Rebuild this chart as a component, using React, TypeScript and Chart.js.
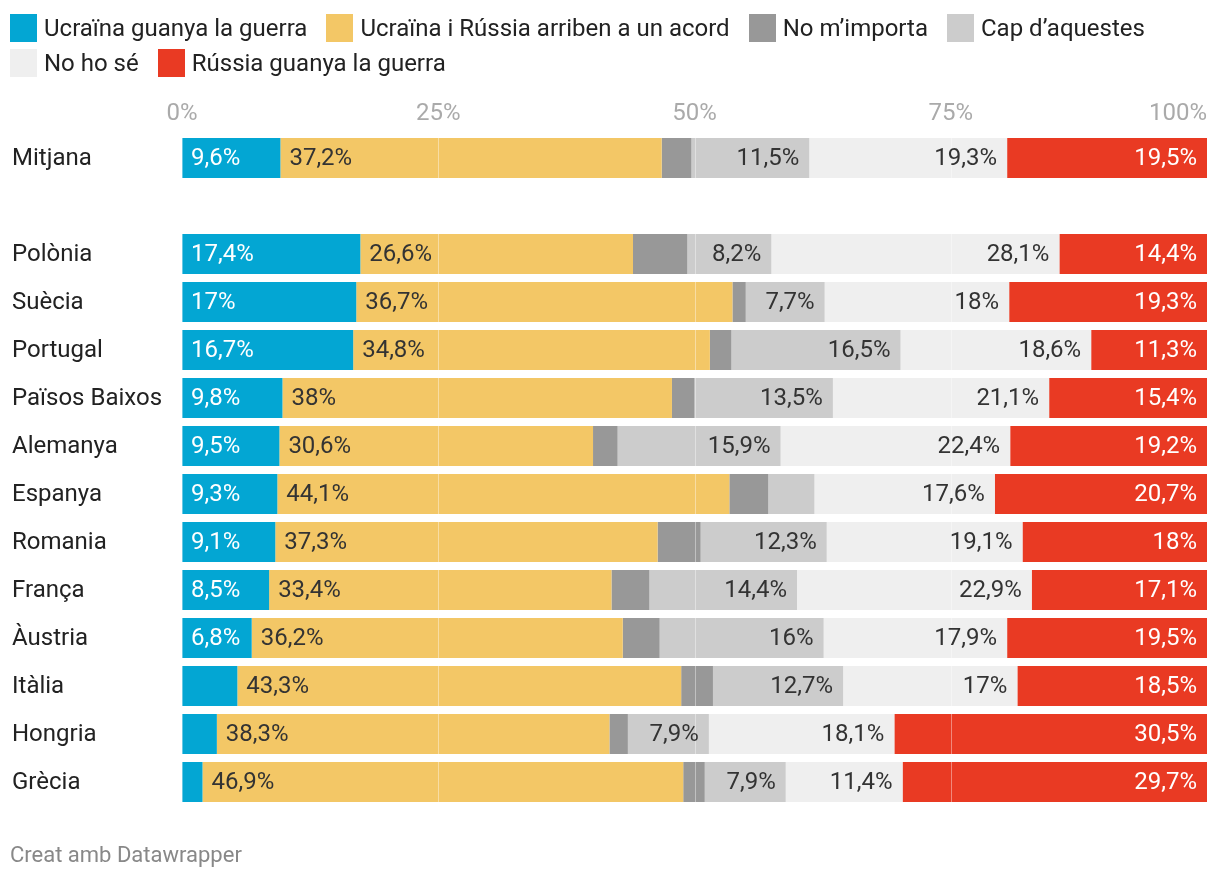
import { useEffect, useRef } from "react";
import { Chart, registerables } from "chart.js";

Chart.register(...registerables);

const categories = [
  "Mitjana",
  "",
  "Polònia",
  "Suècia",
  "Portugal",
  "Països Baixos",
  "Alemanya",
  "Espanya",
  "Romania",
  "França",
  "Àustria",
  "Itàlia",
  "Hongria",
  "Grècia",
];

const seriesNames = [
  "Ucraïna guanya la guerra",
  "Ucraïna i Rússia arriben a un acord",
  "No m’importa",
  "Cap d’aquestes",
  "No ho sé",
  "Rússia guanya la guerra",
];

const ucrainaGuanya = [9.6, null, 17.4, 17, 16.7, 9.8, 9.5, 9.3, 9.1, 8.5, 6.8, 5.4, 3.4, 2.0];
const acord = [37.2, null, 26.6, 36.7, 34.8, 38, 30.6, 44.1, 37.3, 33.4, 36.2, 43.3, 38.3, 46.9];
const noImporta = [2.9, null, 5.3, 1.3, 2.1, 2.2, 2.4, 3.8, 4.2, 3.7, 3.6, 3.1, 1.8, 2.1];
const capAquestes = [11.5, null, 8.2, 7.7, 16.5, 13.5, 15.9, 4.5, 12.3, 14.4, 16, 12.7, 7.9, 7.9];
const noHoSe = [19.3, null, 28.1, 18, 18.6, 21.1, 22.4, 17.6, 19.1, 22.9, 17.9, 17, 18.1, 11.4];
const russiaGuanya = [19.5, null, 14.4, 19.3, 11.3, 15.4, 19.2, 20.7, 18, 17.1, 19.5, 18.5, 30.5, 29.7];

const seriesValues = [ucrainaGuanya, acord, noImporta, capAquestes, noHoSe, russiaGuanya];
const seriesColors = ["#03a6d3", "#f3c766", "#989898", "#cccccc", "#efefef", "#e93a23"];
const labelColors = ["#ffffff", "#333333", null, "#333333", "#333333", "#ffffff"];
const labelAlign = ["left", "left", null, "right", "right", "right"];

const tickValues = [0, 25, 50, 75, 100];
const tickLabels = ["0%", "25%", "50%", "75%", "100%"];

const FONT_FAMILY = "Roboto, 'Noto Sans', sans-serif";
const FONT_SIZE = 24;

function fmt(v: number): string {
  const s = Number.isInteger(v) ? String(v) : v.toFixed(1).replace(".", ",");
  return s + "%";
}

const overlayPlugin = {
  id: "overlay",
  afterDatasetsDraw(chart: any) {
    const ctx = chart.ctx;
    const xs = chart.scales.x;
    const area = chart.chartArea;
    // grid lines on top of bars
    ctx.save();
    ctx.strokeStyle = "rgba(255,255,255,0.4)";
    ctx.lineWidth = 1;
    tickValues.forEach((v) => {
      const px = Math.round(xs.getPixelForValue(v)) + 0.5;
      ctx.beginPath();
      ctx.moveTo(px, area.top);
      ctx.lineTo(px, area.bottom);
      ctx.stroke();
    });
    ctx.restore();

    // data labels
    ctx.save();
    ctx.font = `${FONT_SIZE}px ${FONT_FAMILY}`;
    ctx.textBaseline = "middle";
    chart.data.datasets.forEach((ds: any, di: number) => {
      const align = labelAlign[di];
      if (!align) return;
      const meta = chart.getDatasetMeta(di);
      meta.data.forEach((el: any, i: number) => {
        const v = ds.data[i];
        if (v === null || v === undefined) return;
        const { x, base, y } = el.getProps(["x", "base", "y"], true);
        const w = Math.abs(x - base);
        const text = fmt(v);
        const tw = ctx.measureText(text).width;
        const pad = align === "left" ? 9 : 10;
        if (w < tw + pad * 2) return;
        ctx.fillStyle = labelColors[di] as string;
        if (align === "left") {
          ctx.textAlign = "left";
          ctx.fillText(text, Math.min(x, base) + pad, y + 1);
        } else {
          ctx.textAlign = "right";
          ctx.fillText(text, Math.max(x, base) - pad, y + 1);
        }
      });
    });
    ctx.restore();
  },
  afterDraw(chart: any) {
    const ctx = chart.ctx;
    const xs = chart.scales.x;
    const ys = chart.scales.y;
    ctx.save();
    ctx.font = `${FONT_SIZE}px ${FONT_FAMILY}`;
    ctx.textBaseline = "middle";
    // category labels
    ctx.fillStyle = "#222222";
    ctx.textAlign = "left";
    categories.forEach((c, i) => {
      if (!c) return;
      ctx.fillText(c, 12, ys.getPixelForValue(i) + 1);
    });
    // x tick labels
    ctx.fillStyle = "#aaaaaa";
    tickValues.forEach((v, i) => {
      const px = xs.getPixelForValue(v);
      ctx.textAlign = i === tickValues.length - 1 ? "right" : "center";
      ctx.fillText(tickLabels[i], px, 114);
    });
    ctx.restore();
  },
};

export default function App() {
  const canvasRef = useRef<HTMLCanvasElement | null>(null);

  useEffect(() => {
    if (!canvasRef.current) return;
    const chart = new Chart(canvasRef.current, {
      type: "bar",
      data: {
        labels: categories,
        datasets: seriesNames.map((name, i) => ({
          label: name,
          data: seriesValues[i],
          backgroundColor: seriesColors[i],
          borderWidth: 0,
          barPercentage: 1,
          categoryPercentage: 40 / 48,
        })),
      },
      options: {
        indexAxis: "y",
        responsive: false,
        devicePixelRatio: 1,
        animation: false,
        layout: { padding: { left: 182, right: 13, top: 134, bottom: 74 } },
        plugins: {
          legend: { display: false },
          tooltip: { enabled: false },
        },
        scales: {
          x: { stacked: true, min: 0, max: 100, display: false },
          y: { stacked: true, display: false },
        },
      },
      plugins: [overlayPlugin],
    });
    return () => chart.destroy();
  }, []);

  return (
    <div
      style={{
        position: "absolute",
        left: 0,
        top: 0,
        width: 1220,
        height: 880,
        background: "#ffffff",
        fontFamily: FONT_FAMILY,
        overflow: "hidden",
      }}
    >
      <canvas
        ref={canvasRef}
        width={1220}
        height={880}
        style={{ position: "absolute", left: 0, top: 0, width: 1220, height: 880 }}
      />
      <div
        style={{
          position: "absolute",
          left: 10,
          top: 10,
          width: 1200,
          display: "flex",
          flexWrap: "wrap",
        }}
      >
        {seriesNames.map((name, i) => (
          <div
            key={name}
            style={{ display: "flex", alignItems: "center", height: 35, marginRight: 19 }}
          >
            <div style={{ width: 27, height: 28, background: seriesColors[i], marginRight: 7 }} />
            <span style={{ fontSize: 24, color: "#222222", whiteSpace: "nowrap" }}>{name}</span>
          </div>
        ))}
      </div>
      <div
        style={{
          position: "absolute",
          left: 10,
          top: 840,
          fontSize: 22,
          lineHeight: "30px",
          color: "#888888",
          whiteSpace: "nowrap",
        }}
      >
        Creat amb Datawrapper
      </div>
    </div>
  );
}
